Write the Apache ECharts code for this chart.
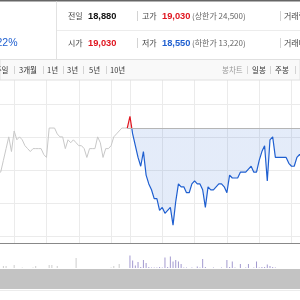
<!DOCTYPE html>
<html><head><meta charset="utf-8">
<script src="https://cdn.jsdelivr.net/npm/echarts@6/dist/echarts.min.js"></script>
<style>html,body{margin:0;padding:0;background:#fff}#c{width:300px;height:300px}</style>
</head><body><div id="c"></div>
<script>
// ---- data ----
function slots(start, end, step) {
  const toMin = s => +s.slice(0, 2) * 60 + +s.slice(3);
  const out = [];
  for (let m = toMin(start); m <= toMin(end); m += step) {
    out.push(String(Math.floor(m / 60)).padStart(2, '0') + ':' + String(m % 60).padStart(2, '0'));
  }
  return out;
}
const prevTimes = slots('11:30', '15:30', 5);   // previous session (5-min slots)
const todayTimes = slots('09:00', '15:30', 5);  // today's session
const prevClose = 18880;
const prevPrice = [18730,18730,18770,18810,18850,18800,18870,18840,18850,18840,
  18820,18810,18800,18810,18810,18810,18810,18790,18780,18880,
  18880,18880,18860,18850,18850,18810,18840,18830,18840,18830,
  18820,18820,18810,18780,18810,18810,18810,18850,18830,18780,
  18810,18810,18820,18850,18860,18870,18880,18880,18880];
const todayPrice = [18920,18860,18820,18780,18750,18800,18720,18690,18670,18640,
  18640,18600,18610,18590,18600,18610,18550,18630,18690,18680,
  18680,18660,18660,18690,18700,18690,18690,18670,18610,18680,
  18670,18670,18680,18690,18690,18680,18660,18720,18710,18710,
  18710,18730,18730,18730,18740,18750,18730,18730,18770,18800,
  18820,18700,18840,18850,18780,18780,18780,18780,18780,18760,
  18750,18750,18780,18790,18780];
const prevVolume = [0,0,4000,4000,0,0,6000,0,0,1000,
  0,0,0,1000,4000,0,0,0,0,6000,
  6000,0,4000,0,0,0,0,0,0,20000,
  0,0,0,0,0,0,0,0,0,0,
  0,0,1000,4000,0,8000,0,0,0];
const todayVolume = [25000,15000,5000,12000,2000,16000,10000,2000,1000,1000,
  1000,2000,1000,21000,2000,23000,13000,16000,13000,8000,
  1000,1000,0,1000,0,3000,1000,18000,2000,0,
  0,1000,0,0,1000,0,16000,2000,13000,1000,
  0,8000,0,1000,8000,0,1000,13000,1000,2000,
  2000,7000,4000,2000,1000,0,0,0,0,0,
  0,0,0,0,0];
// header texts
const row1 = {label1:'전일', val1:'18,880', label2:'고가', val2:'19,030', note2:'(상한가 24,500)', label3:'거래량'};
const row2 = {pct:'0.22%', label1:'시가', val1:'19,030', label2:'저가', val2:'18,550', note2:'(하한가 13,220)', label3:'거래대금'};
const tabs = [['1주일',8.5,'right'],['3개월',19],['1년',47],['3년',67],['5년',89],['10년',110]];
const tabSeps = [14,43,63,83,106];
const rtabs = [['봉차트',222,'#999'],['일봉',252,'#333'],['주봉',275,'#333']];
const rtabSeps = [247,270,295];

// ---- chart ----
const cats = prevTimes.concat(todayTimes);
const nPrev = prevTimes.length, nAll = cats.length;
const pad = (arr, before) => {
  const a = new Array(nAll).fill(null);
  arr.forEach((v, i) => { a[before + i] = v; });
  return a;
};
// today's line starts from the previous close
const todaySeries = pad(todayPrice, nPrev);
todaySeries[nPrev - 1] = prevClose;

const KR = '"Noto Sans CJK KR", sans-serif';
const NUM = '"Liberation Sans", Arial, sans-serif';
const RED = '#e0151f', BLUE = '#1f5fd0';
const txt = (t, x, y, o = {}) => ({type:'text', x, y, z:101, silent:true,
  style:{text:t, fill:o.fill || '#444', fontSize:o.size || 8, fontFamily:o.font || KR,
  fontWeight:o.weight || 'normal', align:o.align || 'left', verticalAlign:'middle'}});
const vsep = (x, y1, y2, c) => ({type:'line', z:101, silent:true,
  shape:{x1:x, y1:y1, x2:x, y2:y2}, style:{stroke:c || '#d3d3d3', lineWidth:1}});

const graphics = [
  {type:'rect', z:100, silent:true, shape:{x:0,y:0,width:300,height:60}, style:{fill:'#fff'}},
  {type:'rect', z:100, silent:true, shape:{x:0,y:0,width:300,height:1.5}, style:{fill:'#666'}},
  {type:'line', z:101, silent:true, shape:{x1:57,y1:30.5,x2:300,y2:30.5}, style:{stroke:'#ececec',lineWidth:1}},
  vsep(56.5, 1.5, 60, '#e2e2e2'),
  {type:'rect', z:100, silent:true, shape:{x:0,y:59.5,width:300,height:20.5}, style:{fill:'#f9f9f9', stroke:'#e0e0e0', lineWidth:1}},
  // row 1
  txt(row1.label1, 68, 16), txt(row1.val1, 88, 16, {font:NUM, weight:'bold', size:9.3, fill:'#111'}),
  vsep(137.5, 11, 21), txt(row1.label2, 142, 16),
  txt(row1.val2, 162, 16, {font:NUM, weight:'bold', size:9.3, fill:RED}),
  txt(row1.note2, 192, 16, {fill:'#666'}), vsep(280.5, 11, 21), txt(row1.label3, 284, 16),
  // row 2
  txt(row2.pct, 17.5, 43, {font:NUM, size:10.5, fill:BLUE, align:'right'}),
  txt(row2.label1, 68, 43), txt(row2.val1, 88, 43, {font:NUM, weight:'bold', size:9.3, fill:RED}),
  vsep(137.5, 38, 48), txt(row2.label2, 142, 43),
  txt(row2.val2, 162, 43, {font:NUM, weight:'bold', size:9.3, fill:BLUE}),
  txt(row2.note2, 192, 43, {fill:'#666'}), vsep(280.5, 38, 48), txt(row2.label3, 284, 43),
  // scroll bar area
  {type:'rect', z:100, silent:true, shape:{x:0,y:269,width:300,height:20}, style:{fill:'#c3c3c3'}},
  {type:'line', z:100, silent:true, shape:{x1:0,y1:290.5,x2:300,y2:290.5}, style:{stroke:'#ececec',lineWidth:1}}
];
tabs.forEach(t => graphics.push(txt(t[0], t[1], 70, {size:7.5, fill:'#333', align:t[2] || 'left'})));
tabSeps.forEach(x => graphics.push(vsep(x + 0.5, 66, 74)));
rtabs.forEach(t => graphics.push(txt(t[0], t[1], 70, {size:7.5, fill:t[2]})));
rtabSeps.forEach(x => graphics.push(vsep(x + 0.5, 66, 74)));

const chart = echarts.init(document.getElementById('c'), null, {renderer:'canvas'});
chart.setOption({
  animation:false,
  backgroundColor:'#fff',
  grid:[{left:-2, width:342, top:71, height:172, outerBoundsMode:'none', containLabel:false},
        {left:-2, width:342, top:244, height:24, outerBoundsMode:'none', containLabel:false}],
  xAxis:[
    {type:'category', data:cats, gridIndex:0, boundaryGap:false,
     axisLine:{show:true, onZero:false, lineStyle:{color:'#888', width:1}},
     axisTick:{show:false}, axisLabel:{show:false},
     splitLine:{show:true, interval:(i, v) => /:00$/.test(v), lineStyle:{color:'#ebebeb', width:1}}},
    {type:'category', data:cats, gridIndex:1, boundaryGap:false, show:false}
  ],
  yAxis:[
    {type:'value', gridIndex:0, min:18489, max:19074, show:false, scale:true},
    {type:'value', gridIndex:0, inverse:true, min:0, max:5.212, interval:1,
     axisLine:{show:false}, axisTick:{show:false}, axisLabel:{show:false},
     splitLine:{show:true, lineStyle:{color:'#ebebeb', width:1}}},
    {type:'value', gridIndex:1, min:0, max:48000, show:false}
  ],
  visualMap:{type:'piecewise', show:false, seriesIndex:1, dimension:1,
    pieces:[{gt:prevClose, lte:20000, color:RED}, {gte:18000, lte:prevClose, color:BLUE}],
    outOfRange:{color:BLUE}},
  series:[
    {type:'line', xAxisIndex:0, yAxisIndex:0, data:pad(prevPrice, 0), symbol:'none',
     lineStyle:{color:'#c8c8c8', width:1}, z:3},
    {type:'line', xAxisIndex:0, yAxisIndex:0, data:todaySeries, symbol:'none',
     lineStyle:{width:1.2}, areaStyle:{origin:prevClose, opacity:0.12}, z:4,
     markLine:{silent:true, symbol:'none', label:{show:false},
       lineStyle:{color:'#b5b5b5', type:'solid', width:1},
       data:[[{xAxis:nPrev - 1, yAxis:prevClose}, {xAxis:nAll - 1, yAxis:prevClose}]]}},
    {type:'bar', xAxisIndex:1, yAxisIndex:2, data:pad(prevVolume, 0), barWidth:1,
     itemStyle:{color:'#cdcdcd'}},
    {type:'bar', xAxisIndex:1, yAxisIndex:2, data:pad(todayVolume, nPrev), barWidth:1, barGap:'-100%',
     itemStyle:{color:'#a39ad0'}}
  ],
  graphic:graphics
});
</script></body></html>
